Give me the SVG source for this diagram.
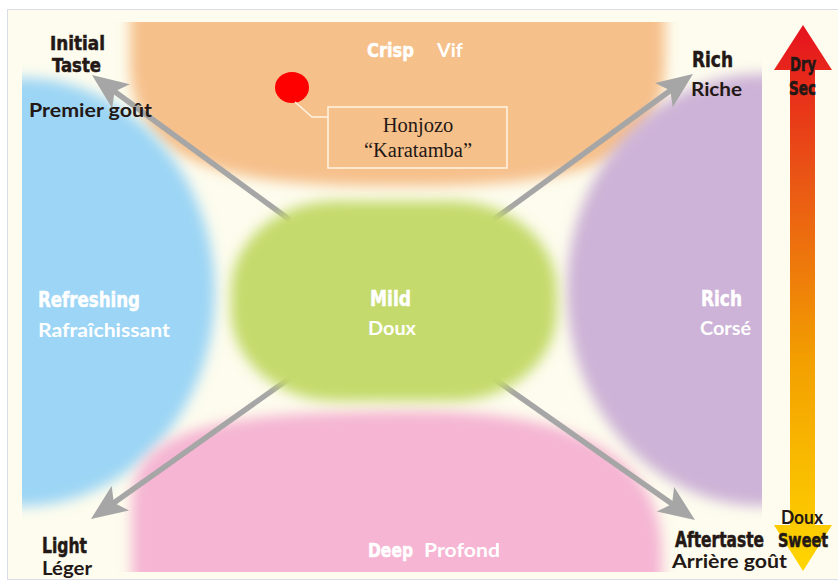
<svg xmlns="http://www.w3.org/2000/svg" width="838" height="582" viewBox="0 0 838 582">
<defs>
<style>
.cond{font-family:"DejaVu Sans Condensed","DejaVu Sans",sans-serif;font-weight:bold;font-stretch:condensed;stroke-width:0.5px}
.hum{font-family:Lato,"Open Sans",sans-serif;font-weight:bold}
.dk{fill:#231815}
.cond.dk{stroke:#231815}
.wt{fill:#ffffff}
.cond.wt{stroke:#ffffff}
.ser{font-family:"Liberation Serif",serif;fill:#231815;font-size:20.5px}
.arw{stroke:#a6a6a6;stroke-width:5.5;fill:none;marker-end:url(#ah)}
.blob{filter:url(#soft)}
</style>
<filter id="soft" x="-20%" y="-20%" width="140%" height="140%"><feGaussianBlur stdDeviation="6.5"/></filter>
<clipPath id="area"><rect x="22" y="22" width="740" height="550"/></clipPath>
<marker id="ah" markerUnits="userSpaceOnUse" viewBox="0 0 36 32" markerWidth="36" markerHeight="32" refX="16" refY="16" orient="auto">
<path d="M0,1 L36,16 L0,31 L8,16 Z" fill="#a6a6a6"/>
</marker>
<linearGradient id="dry" x1="0" y1="0" x2="0" y2="1">
<stop offset="0" stop-color="#e6121e"/>
<stop offset="0.3" stop-color="#ea5a14"/>
<stop offset="0.62" stop-color="#f3a000"/>
<stop offset="1" stop-color="#ffd600"/>
</linearGradient>
</defs>

<g id="panel">
<rect x="0" y="0" width="838" height="582" fill="#ffffff"/>
<rect x="7.5" y="9.5" width="832" height="570" fill="#fdfcee" stroke="#d8dde9" stroke-width="1"/>
</g>

<g clip-path="url(#area)">
<g id="node-crisp">
<path class="blob" d="M130,0 H665 V60 C665,172 560,186 400,186 C240,186 130,172 130,60 Z" fill="#f6c08b"/>
<text class="cond wt" x="367" y="57" font-size="20" textLength="47" lengthAdjust="spacingAndGlyphs">Crisp</text>
<text class="hum wt" x="437" y="57" font-size="18" textLength="26" lengthAdjust="spacingAndGlyphs">Vif</text>
</g>
<g id="node-refreshing">
<path class="blob" d="M0,78 H22 A193,214 0 0 1 22,506 H0 Z" fill="#9cd5f5"/>
<text class="cond wt" x="38" y="307" font-size="21" textLength="102" lengthAdjust="spacingAndGlyphs">Refreshing</text>
<text class="hum wt" x="38" y="337" font-size="18" textLength="132" lengthAdjust="spacingAndGlyphs">Rafraîchissant</text>
</g>
<g id="node-rich">
<path class="blob" d="M838,74 H762 A195,216 0 0 0 762,506 H838 Z" fill="#cdb3d7"/>
<text class="cond wt" x="701" y="306" font-size="21" textLength="41" lengthAdjust="spacingAndGlyphs">Rich</text>
<text class="hum wt" x="700" y="335" font-size="18.5" textLength="51" lengthAdjust="spacingAndGlyphs">Corsé</text>
</g>
<g id="node-deep">
<path class="blob" d="M132,600 H662 V555 C662,470 600,412 420,411 C250,411 132,420 132,500 Z" fill="#f5b5d3"/>
<text class="cond wt" x="368" y="557" font-size="20" textLength="45" lengthAdjust="spacingAndGlyphs">Deep</text>
<text class="hum wt" x="424" y="557" font-size="18.5" textLength="76" lengthAdjust="spacingAndGlyphs">Profond</text>
</g>
</g>

<g id="connectors">
<line class="arw" x1="290" y1="220" x2="108.1" y2="86.8"/>
<line class="arw" x1="493" y1="220" x2="676.8" y2="85.8"/>
<line class="arw" x1="290" y1="378" x2="107.3" y2="507.4"/>
<line class="arw" x1="493" y1="378" x2="678.6" y2="508.5"/>
</g>

<g id="node-mild">
<rect class="blob" x="231" y="201" width="326" height="200" rx="105" ry="90" fill="#c4da6c"/>
<text class="cond wt" x="370" y="306" font-size="21" textLength="41" lengthAdjust="spacingAndGlyphs">Mild</text>
<text class="hum wt" x="368" y="335" font-size="18.5" textLength="48" lengthAdjust="spacingAndGlyphs">Doux</text>
</g>

<g id="node-sample">
<ellipse cx="292" cy="87.5" rx="17" ry="15.5" fill="#ff0000"/>
<polyline points="295,102 312,117 328,117" fill="none" stroke="#fff4e4" stroke-width="1.5"/>
<rect x="328" y="107" width="179" height="61" fill="none" stroke="#fff4e4" stroke-width="1.5"/>
<text class="ser" x="418" y="132" text-anchor="middle">Honjozo</text>
<text class="ser" x="418" y="157" text-anchor="middle">“Karatamba”</text>
</g>

<g id="node-initial">
<text class="cond dk" x="50" y="50" font-size="19.5" textLength="55" lengthAdjust="spacingAndGlyphs">Initial</text>
<text class="cond dk" x="52" y="71.5" font-size="19.5" textLength="49" lengthAdjust="spacingAndGlyphs">Taste</text>
<text class="hum dk" x="29" y="117" font-size="18.5" textLength="123" lengthAdjust="spacingAndGlyphs">Premier goût</text>
</g>

<g id="node-rich-corner">
<text class="cond dk" x="692" y="67" font-size="21" textLength="41" lengthAdjust="spacingAndGlyphs">Rich</text>
<text class="hum dk" x="691" y="96" font-size="19" textLength="51" lengthAdjust="spacingAndGlyphs">Riche</text>
</g>

<g id="node-light">
<text class="cond dk" x="42" y="553" font-size="21" textLength="45" lengthAdjust="spacingAndGlyphs">Light</text>
<text class="hum dk" x="42" y="575" font-size="18.5" textLength="50" lengthAdjust="spacingAndGlyphs">Léger</text>
</g>

<g id="node-aftertaste">
<text class="cond dk" x="675" y="547" font-size="21" textLength="89" lengthAdjust="spacingAndGlyphs">Aftertaste</text>
<text class="hum dk" x="672" y="568" font-size="18.5" textLength="115" lengthAdjust="spacingAndGlyphs">Arrière goût</text>
</g>

<g id="node-dryness">
<path d="M803,25 L832,70 L815,70 L815,525 L832,525 L803,571 L774,525 L790,525 L790,70 L774,70 Z" fill="url(#dry)"/>
<text class="cond dk" x="790" y="71" font-size="19" textLength="26" lengthAdjust="spacingAndGlyphs">Dry</text>
<text class="cond dk" x="789" y="95" font-size="19" textLength="27" lengthAdjust="spacingAndGlyphs">Sec</text>
<text class="hum dk" x="781" y="524" font-size="18.5" textLength="42" lengthAdjust="spacingAndGlyphs">Doux</text>
<text class="cond dk" x="778" y="547" font-size="19" textLength="50" lengthAdjust="spacingAndGlyphs">Sweet</text>
</g>
</svg>
